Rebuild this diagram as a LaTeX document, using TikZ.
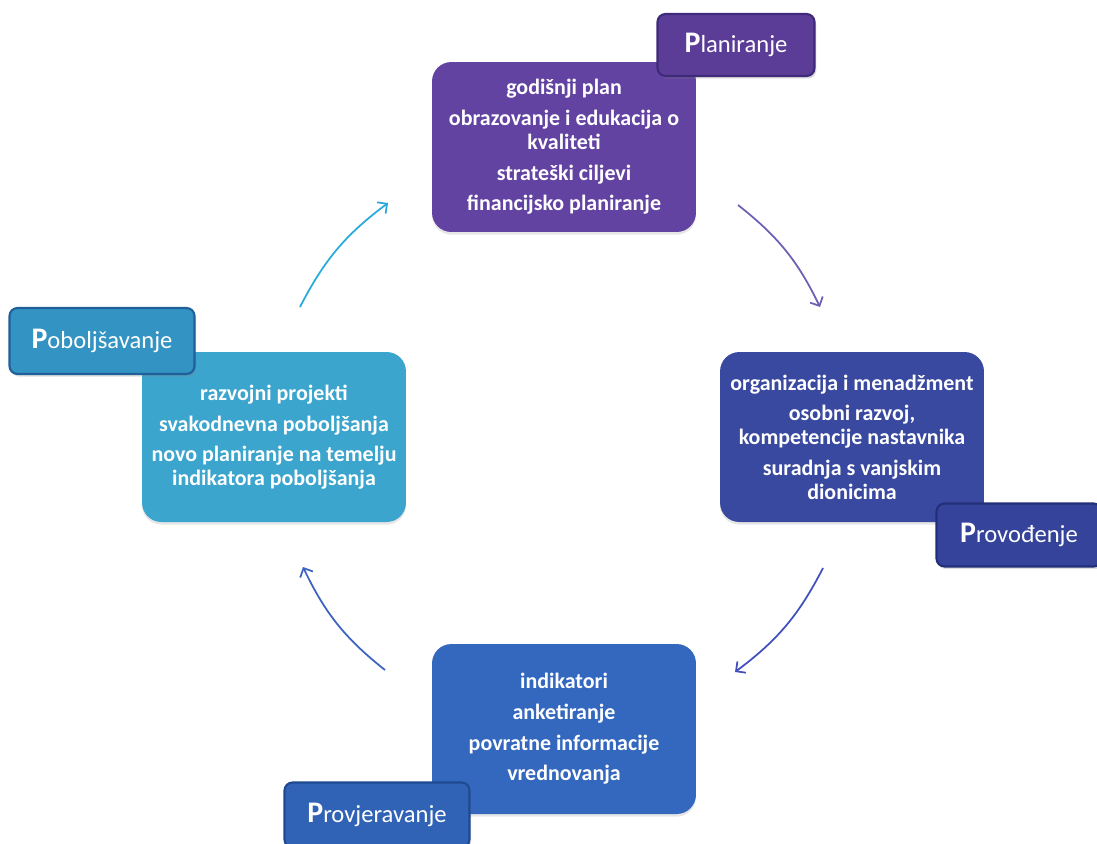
\documentclass[tikz,border=0pt]{standalone}
\usepackage{fontspec}
\setmainfont{Carlito}
\usetikzlibrary{arrows.meta,shadows}

\definecolor{planfill}{HTML}{6343A1}
\definecolor{plantag}{HTML}{5B3D98}
\definecolor{planedge}{HTML}{3E2A78}
\definecolor{provfill}{HTML}{3949A0}
\definecolor{provtag}{HTML}{35449A}
\definecolor{provedge}{HTML}{232F78}
\definecolor{checkfill}{HTML}{3468BE}
\definecolor{checktag}{HTML}{3062B5}
\definecolor{checkedge}{HTML}{1F4A92}
\definecolor{impfill}{HTML}{3CA5CD}
\definecolor{imptag}{HTML}{3393C3}
\definecolor{impedge}{HTML}{1F5F9A}

\newcommand{\tagletter}[1]{{\fontsize{17}{17}\selectfont\bfseries #1}}

\begin{document}
\begin{tikzpicture}
  [x=0.02cm,y=-0.02cm,
   phase/.style={rounded corners=11pt,minimum width=5.28cm,minimum height=3.4cm,inner sep=0pt,
     align=center,text=white,font=\fontsize{12.5}{13.5}\selectfont\bfseries,
     drop shadow={shadow xshift=0pt,shadow yshift=-1.5pt,opacity=0.2}},
   tag/.style={rounded corners=4.5pt,line width=1.2pt,inner sep=0pt,text=white,
     font=\fontsize{14}{16}\selectfont,
     drop shadow={shadow xshift=1pt,shadow yshift=-1.5pt,opacity=0.25}},
   cycle/.style={line width=1pt,-{Straight Barb[length=4pt,width=8pt]}}]
  \useasboundingbox (0,0) rectangle (1097,843);

  \node[phase,fill=planfill] (plan) at (564,147)
    {godišnji plan\\[4pt]obrazovanje i edukacija o\\kvaliteti\\[4pt]strateški ciljevi\\[4pt]financijsko planiranje};
  \node[phase,fill=provfill] (prov) at (852,437)
    {organizacija i menadžment\\[4pt]osobni razvoj,\\kompetencije nastavnika\\[4pt]suradnja s vanjskim\\dionicima};
  \node[phase,fill=checkfill] (check) at (564,729)
    {indikatori\\[4pt]anketiranje\\[4pt]povratne informacije\\[4pt]vrednovanja};
  \node[phase,fill=impfill] (imp) at (274,437)
    {razvojni projekti\\[4pt]svakodnevna poboljšanja\\[4pt]novo planiranje na temelju\\indikatora poboljšanja};

  \node[tag,fill=plantag,draw=planedge,minimum width=3.14cm,minimum height=1.24cm] (plantitle) at (736,45) {\tagletter{P}laniranje};
  \node[tag,fill=provtag,draw=provedge,minimum width=3.3cm,minimum height=1.26cm] (provtitle) at (1019,535) {\tagletter{P}rovođenje};
  \node[tag,fill=checktag,draw=checkedge,minimum width=3.7cm,minimum height=1.3cm] (checktitle) at (377,815) {\tagletter{P}rovjeravanje};
  \node[tag,fill=imptag,draw=impedge,minimum width=3.7cm,minimum height=1.32cm] (imptitle) at (102,341) {\tagletter{P}oboljšavanje};

  \coordinate (impout) at (300,307);
  \coordinate (planin) at (388,203);
  \coordinate (planout) at (738,205);
  \coordinate (provin) at (820,307);
  \coordinate (provout) at (823,568);
  \coordinate (checkin) at (735,672);
  \coordinate (checkout) at (385,670);
  \coordinate (impin) at (303,567);

  \draw[cycle,color={rgb,255:red,40;green,170;blue,220}] (impout) to[bend left=13] (planin);
  \draw[cycle,color={rgb,255:red,110;green,95;blue,180}] (planout) to[bend left=13] (provin);
  \draw[cycle,color={rgb,255:red,65;green,80;blue,190}] (provout) to[bend left=13] (checkin);
  \draw[cycle,color={rgb,255:red,60;green,100;blue,190}] (checkout) to[bend left=13] (impin);
\end{tikzpicture}
\end{document}
